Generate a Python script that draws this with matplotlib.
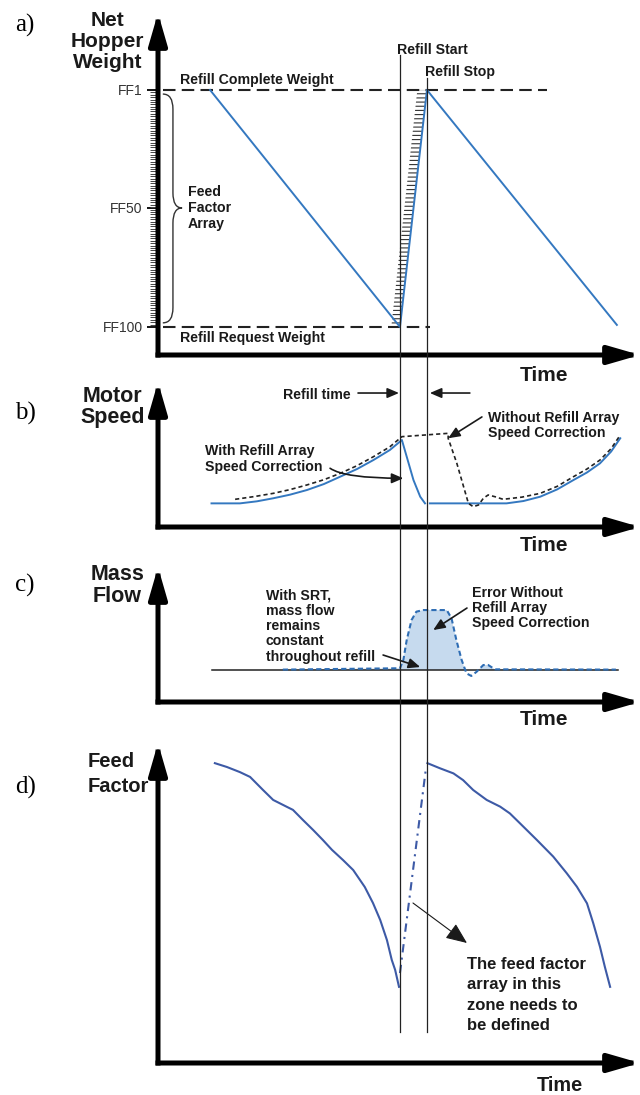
import matplotlib
matplotlib.use('Agg')
import matplotlib.pyplot as plt
import matplotlib.transforms as mtransforms
import numpy as np
from matplotlib.lines import Line2D
from matplotlib.path import Path
from matplotlib.patches import PathPatch

plt.rcParams['font.family'] = ['Liberation Sans', 'DejaVu Sans']
plt.rcParams['hatch.linewidth'] = 0.8

# shared time scale (arbitrary units 0..100)
refill_start = 50.2
refill_stop = 55.8

# a) net hopper weight
ff_levels = [77.5, 43.0, 8.2]
ff_labels = ['FF1', 'FF50', 'FF100']
weight_t = [10.8, 50.2, 55.8, 95.2]
weight_v = [77.5, 8.2, 77.5, 8.8]

# b) motor speed
speed_corr_t1 = [11.1, 17.0, 20.5, 23.9, 27.4, 30.9, 34.4, 37.8, 41.3, 44.7, 48.1, 50.6,
                 51.6, 53.0, 54.4, 55.4]
speed_corr_v1 = [16.3, 16.3, 17.7, 19.8, 22.3, 25.5, 29.6, 34.7, 40.0, 46.2, 53.1, 60.0,
                 48.5, 32.4, 20.9, 16.3]
speed_corr_t2 = [56.4, 72.3, 75.8, 79.3, 82.8, 86.2, 89.0, 91.7, 94.0, 95.9]
speed_corr_v2 = [16.3, 16.3, 17.9, 20.9, 25.9, 32.4, 37.6, 43.9, 52.0, 61.2]
speed_nocorr_t = [16.0, 20.0, 23.9, 27.4, 30.9, 34.4, 37.8, 41.3, 44.7, 48.1, 50.6,
                  60.2, 60.2, 62.0, 63.4, 64.4, 65.4, 66.5, 67.5, 68.5, 69.9, 71.6,
                  75.5, 79.3, 82.8, 86.2, 89.0, 91.7, 94.0, 95.9]
speed_nocorr_v = [19.1, 21.0, 23.2, 25.8, 29.0, 32.6, 37.0, 42.3, 48.5, 55.3, 62.3,
                  64.6, 61.2, 43.9, 27.8, 16.3, 14.0, 15.2, 19.8, 22.1, 20.9, 19.1,
                  20.6, 23.2, 28.0, 34.7, 40.0, 46.2, 54.0, 63.4]

# c) mass flow
flow_base_t = [11.2, 95.4]
flow_base_v = [23.7, 23.7]
flow_err_t = [25.9, 50.2, 50.9, 51.6, 52.6, 53.6, 55.0, 59.9, 60.9, 61.9, 63.0, 64.0,
              65.0, 66.1, 67.5, 68.5, 69.9, 95.0]
flow_err_v = [24.0, 25.0, 31.1, 45.9, 60.7, 66.9, 68.1, 68.1, 62.0, 45.9, 31.1, 21.2,
              19.3, 22.4, 27.4, 27.4, 24.2, 24.0]

# d) feed factor
ff1_t = [11.8, 14.3, 17.0, 19.1, 21.8, 23.9, 26.8, 28.0, 30.1, 32.2, 34.2, 36.1,
         38.4, 40.5, 42.9, 44.6, 46.1, 47.5, 48.5, 49.2, 50.0]
ff1_v = [93.7, 92.5, 90.9, 89.4, 85.3, 82.2, 80.0, 79.1, 75.9, 72.8, 69.7, 66.6,
         63.4, 60.3, 55.0, 50.0, 44.7, 38.4, 32.2, 29.1, 23.8]
ff2_t = [55.9, 58.5, 61.3, 63.3, 65.4, 68.2, 71.0, 73.0, 75.1, 78.6, 82.0, 84.8,
         86.9, 89.0, 90.3, 91.7, 92.7, 93.8]
ff2_v = [93.7, 92.1, 90.5, 88.4, 85.3, 82.2, 80.1, 78.0, 74.9, 69.7, 64.5, 59.3,
         55.1, 49.9, 43.7, 36.3, 30.1, 23.8]
ff_gap_t = [50.2, 55.6]
ff_gap_v = [28.1, 92.2]

BLUE = '#3478c0'
NAVY = '#3d5aa6'
INK = '#1a1a1a'
NOTE = 10.2
W, H = 640, 1095
L, R = 158, 640

fig = plt.figure(figsize=(W / 100, H / 100), dpi=100)

axis_arrow = dict(arrowstyle='-|>,head_length=1.9,head_width=0.55', lw=3.6,
                  color='black', shrinkA=0, shrinkB=0, capstyle='projecting',
                  mutation_scale=10)


def panel(top, bottom):
    ax = fig.add_axes([L / W, 1 - bottom / H, (R - L) / W, (bottom - top) / H])
    ax.set_xlim(0, 100)
    ax.set_ylim(0, 100)
    for s in ax.spines.values():
        s.set_visible(False)
    ax.set_xticks([])
    ax.set_yticks([])
    ax.patch.set_alpha(0)
    ax.annotate('', xy=(0, 1), xytext=(0, 0), xycoords='axes fraction',
                arrowprops=axis_arrow, annotation_clip=False)
    ax.annotate('', xy=(1, 0), xytext=(0, 0), xycoords='axes fraction',
                arrowprops=axis_arrow, annotation_clip=False)
    return ax


def label(ax, x, y, s, size=NOTE, **kw):
    ax.text(x, y, s, fontsize=size, fontweight='bold', color=INK,
            clip_on=False, **kw)


def arrow(ax, start, end, style='-|>,head_length=0.7,head_width=0.3', lw=1.2, **kw):
    ax.annotate('', xy=end, xytext=start,
                arrowprops=dict(arrowstyle=style, lw=lw, color=INK,
                                shrinkA=0, shrinkB=0, **kw),
                annotation_clip=False)


# ---------------- a) ----------------
ax_a = panel(13, 355)
ax_a.set_yticks(ff_levels, ff_labels)
ax_a.set_yticks(np.linspace(ff_levels[0], ff_levels[2], 100), minor=True)
ax_a.tick_params(axis='y', which='major', length=8, width=1.3, pad=3,
                 labelsize=10, labelcolor='#333333')
ax_a.tick_params(axis='y', which='minor', length=5.8, width=0.7, color='#444444')

ax_a.plot([1.0, 80.7], [ff_levels[0]] * 2, color='#222222', lw=1.5, dashes=(6, 3))
ax_a.plot([1.0, 56.4], [ff_levels[2]] * 2, color='#222222', lw=1.5, dashes=(6, 3))
ax_a.fill_betweenx([weight_v[1], weight_v[2]], [48.4, 53.8],
                   [weight_t[1], weight_t[2]], facecolor='none',
                   edgecolor='#333333', hatch='----', linewidth=0)
ax_a.plot(weight_t, weight_v, color=BLUE, lw=1.4)

# brace for the feed factor array
x0, x1, x2 = 1.0, 3.1, 5.0
yt, ym, yb, d = 76.3, 43.0, 9.4, 4.4
brace = Path([(x0, yt), (x1, yt), (x1, yt - d), (x1, ym + d), (x1, ym), (x2, ym),
              (x1, ym), (x1, ym - d), (x1, yb + d), (x1, yb), (x0, yb)],
             [Path.MOVETO, Path.CURVE3, Path.CURVE3, Path.LINETO, Path.CURVE3,
              Path.CURVE3, Path.CURVE3, Path.CURVE3, Path.LINETO, Path.CURVE3,
              Path.CURVE3])
ax_a.add_patch(PathPatch(brace, facecolor='none', edgecolor='#333333', lw=1.0))

label(ax_a, 6.2, 43.0, 'Feed\nFactor\nArray', va='center', linespacing=1.16)
label(ax_a, 4.6, 80.4, 'Refill Complete Weight', va='center')
label(ax_a, 4.6, 5.0, 'Refill Request Weight', va='center')
label(ax_a, 49.6, 89.2, 'Refill Start', va='center')
label(ax_a, 55.4, 82.7, 'Refill Stop', va='center')
label(ax_a, 80.1, -6.1, 'Time', size=15, ha='center', va='center')
label(ax_a, -10.4, 91.7, 'Net\nHopper\nWeight', size=15, ha='center',
      va='center', linespacing=1.14)

# ---------------- b) ----------------
ax_b = panel(382, 527)
ax_b.plot(speed_corr_t1, speed_corr_v1, color=BLUE, lw=1.4)
ax_b.plot(speed_corr_t2, speed_corr_v2, color=BLUE, lw=1.4)
ax_b.plot(speed_nocorr_t, speed_nocorr_v, color='#222222', lw=1.2, dashes=(2.5, 1.8))
label(ax_b, 25.9, 91.0, 'Refill time', va='center')
arrow(ax_b, (41.5, 92.4), (50.0, 92.4))
arrow(ax_b, (64.7, 92.4), (56.4, 92.4))
label(ax_b, 9.8, 46.9, 'With Refill Array\nSpeed Correction', va='center',
      linespacing=1.16)
arrow(ax_b, (35.7, 40.5), (50.9, 33.6), connectionstyle='angle3,angleA=-35,angleB=0')
label(ax_b, 68.5, 70.3, 'Without Refill Array\nSpeed Correction', va='center',
      linespacing=1.1)
arrow(ax_b, (67.2, 75.9), (60.2, 61.2))
label(ax_b, 80.1, -13.1, 'Time', size=15, ha='center', va='center')
label(ax_b, -9.5, 82.8, 'Motor\nSpeed', size=15.5, ha='center', va='center',
      linespacing=1.02)

# ---------------- c) ----------------
ax_c = panel(567, 702)
err_t = np.array(flow_err_t)
err_v = np.array(flow_err_v)
ax_c.fill_between(err_t, err_v, flow_base_v[0], where=err_v > flow_base_v[0],
                  interpolate=True, color='#c6daee', lw=0)
ax_c.plot(flow_base_t, flow_base_v, color='#222222', lw=1.1)
ax_c.plot(flow_err_t, flow_err_v, color='#2e6db4', lw=1.5, dashes=(2.5, 1.5))
label(ax_c, 22.4, 56.3, 'With SRT,\nmass flow\nremains\nconstant\nthroughout refill',
      va='center', linespacing=1.12)
arrow(ax_c, (46.7, 34.8), (54.4, 25.9))
label(ax_c, 65.1, 69.6, 'Error Without\nRefill Array\nSpeed Correction',
      va='center', linespacing=1.12)
arrow(ax_c, (64.1, 69.6), (57.1, 53.3))
label(ax_c, 80.1, -12.6, 'Time', size=15, ha='center', va='center')
label(ax_c, -8.4, 86.3, 'Mass\nFlow', size=15.5, ha='center', va='center',
      linespacing=1.07)

# ---------------- d) ----------------
ax_d = panel(743, 1063)
ax_d.plot(ff1_t, ff1_v, color=NAVY, lw=1.5)
ax_d.plot(ff2_t, ff2_v, color=NAVY, lw=1.5)
ax_d.plot(ff_gap_t, ff_gap_v, color=NAVY, lw=1.5, dashes=(4, 2.5, 1, 2.5))
arrow(ax_d, (52.9, 50.0), (64.1, 37.5), style='-|>,head_length=1.3,head_width=0.55',
      lw=0.8)
label(ax_d, 64.1, 21.2, 'The feed factor\narray in this\nzone needs to\nbe defined',
      size=12, va='center', linespacing=1.45)
label(ax_d, 83.4, -6.9, 'Time', size=14.3, ha='center', va='center')
label(ax_d, -14.5, 90.4, 'Feed\nFactor', size=14.5, ha='left', va='center',
      linespacing=1.42)

# refill start / stop markers through all panels
trans = mtransforms.blended_transform_factory(ax_a.transData, fig.transFigure)
for t, top in [(refill_start, 55), (refill_stop, 78)]:
    fig.add_artist(Line2D([t, t], [1 - top / H, 1 - 1032 / H], transform=trans,
                          color='#222222', lw=0.9))

# panel letters
for letter, y in [('a)', 25), ('b)', 413), ('c)', 585), ('d)', 787)]:
    fig.text(15 / W, 1 - y / H, letter, fontsize=18, family='Liberation Serif',
             va='center', ha='left')

fig.savefig('out.png', dpi=100)
